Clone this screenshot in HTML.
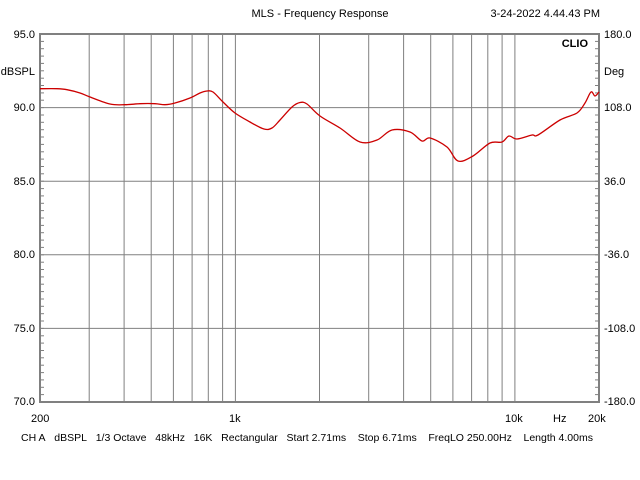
<!DOCTYPE html>
<html><head><meta charset="utf-8"><style>
html,body{margin:0;padding:0;background:#fff;width:640px;height:480px;overflow:hidden}
svg{display:block}
text{font-family:"Liberation Sans",sans-serif;font-size:11px;fill:#000}
</style></head><body>
<svg id="s" width="640" height="480" xmlns="http://www.w3.org/2000/svg">
<text x="320" y="17" text-anchor="middle">MLS - Frequency Response</text>
<text x="600" y="17" text-anchor="end">3-24-2022 4.44.43 PM</text>
<text x="35" y="38" text-anchor="end">95.0</text>
<text x="35" y="75" text-anchor="end">dBSPL</text>
<text x="35" y="111" text-anchor="end">90.0</text>
<text x="35" y="185" text-anchor="end">85.0</text>
<text x="35" y="258" text-anchor="end">80.0</text>
<text x="35" y="332" text-anchor="end">75.0</text>
<text x="35" y="405" text-anchor="end">70.0</text>
<text x="604" y="38">180.0</text>
<text x="604" y="75">Deg</text>
<text x="604" y="111">108.0</text>
<text x="604" y="185">36.0</text>
<text x="604" y="258">-36.0</text>
<text x="604" y="332">-108.0</text>
<text x="604" y="405">-180.0</text>
<text x="588" y="47" text-anchor="end" style="font-weight:bold">CLIO</text>
<text x="31" y="422">200</text>
<text x="229" y="422">1k</text>
<text x="505" y="422">10k</text>
<text x="553" y="422">Hz</text>
<text x="588" y="422">20k</text>
<text x="21" y="441" style="font-size:10.5px">CH A&#160;&#160; dBSPL&#160;&#160; 1/3 Octave&#160;&#160; 48kHz&#160;&#160; 16K&#160;&#160; Rectangular&#160;&#160; Start 2.71ms&#160;&#160;&#160; Stop 6.71ms&#160;&#160;&#160; FreqLO 250.00Hz&#160;&#160;&#160; Length 4.00ms</text>
<g id="g" stroke="#808080" stroke-width="1"></g>
<rect x="40" y="34" width="559" height="368" fill="none" stroke="#808080" stroke-width="2"/>
<path id="c" fill="none" stroke="#cc0000" stroke-width="1.3" d=""/>
</svg>
<script>
var g=document.getElementById('g'),h='';
function X(f){return 40+279.5*Math.log10(f/200);}
[300,400,500,600,700,800,900,1000,2000,3000,4000,5000,6000,7000,8000,9000,10000].forEach(function(f){var x=X(f).toFixed(1);h+='<line x1="'+x+'" y1="34" x2="'+x+'" y2="402"/>';});
for(var i=1;i<5;i++){var y=(34+i*73.6).toFixed(1);h+='<line x1="40" y1="'+y+'" x2="599" y2="'+y+'"/>';}
for(var j=1;j<50;j++){var y=(34+j*7.36).toFixed(1);h+='<line x1="40" y1="'+y+'" x2="44" y2="'+y+'"/><line x1="595" y1="'+y+'" x2="599" y2="'+y+'"/>';}
g.innerHTML=h;
var p=[[40,88.7],[57,88.7],[67,89.7],[80,93],[90,97],[110,104],[125,104.7],[140,103.7],[155,103.7],[165,104.7],[175,103],[190,98],[200,93],[207,91],[213,92],[223,102],[235,113],[250,122],[264,129],[272,128],[280,120],[292,107],[300,102.5],[307,104],[320,116],[340,128],[360,142],[377,140],[392,130],[410,132],[422,141],[430,138],[447,147],[458,161],[473,156],[490,143],[502,142],[509,136],[517,139],[532,135],[538,135],[560,120],[577,113],[585,103],[591,92],[595,96],[599,92]];
var d='M'+p[0][0]+','+p[0][1];
for(var k=0;k<p.length-1;k++){var a=p[Math.max(k-1,0)],b=p[k],c=p[k+1],e=p[Math.min(k+2,p.length-1)];
d+=' C'+(b[0]+(c[0]-a[0])/6).toFixed(1)+','+(b[1]+(c[1]-a[1])/6).toFixed(1)+' '+(c[0]-(e[0]-b[0])/6).toFixed(1)+','+(c[1]-(e[1]-b[1])/6).toFixed(1)+' '+c[0]+','+c[1];}
document.getElementById('c').setAttribute('d',d);
</script>
</body></html>
